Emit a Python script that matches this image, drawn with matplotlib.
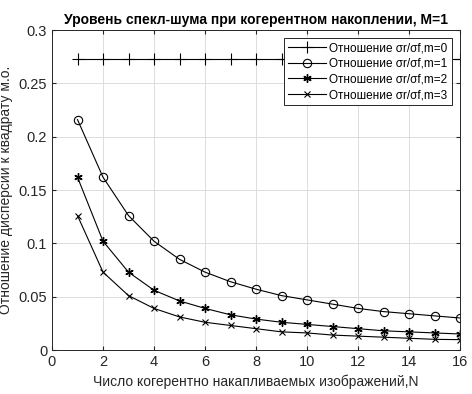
#speckle noise level vs number of coherently accumulated images
import numpy as np
import matplotlib.pyplot as plt

plt.rcParams['font.family'] = ['Liberation Sans', 'DejaVu Sans']

N = np.arange(1, 17)
m0 = [0.273]*16
m1 = [0.216, 0.162, 0.126, 0.102, 0.085, 0.073, 0.064, 0.057, 0.051, 0.047,
      0.043, 0.039, 0.036, 0.034, 0.032, 0.030]
m2 = [0.162, 0.102, 0.073, 0.056, 0.046, 0.039, 0.033, 0.029, 0.026, 0.024,
      0.022, 0.020, 0.018, 0.017, 0.016, 0.015]
m3 = [0.126, 0.073, 0.051, 0.039, 0.031, 0.026, 0.023, 0.020, 0.017, 0.016,
      0.014, 0.013, 0.012, 0.011, 0.010, 0.0097]
labels = ['Отношение σr/σf,m=0', 'Отношение σr/σf,m=1',
          'Отношение σr/σf,m=2', 'Отношение σr/σf,m=3']

fig = plt.figure(figsize=(4.72, 3.94), dpi=100)
ax = fig.add_axes([52/472, 1-350/394, 408/472, 320/394])

ax.plot(N, m0, 'k-', marker='+', ms=8, mew=0.8, lw=0.8, label=labels[0])
ax.plot(N, m1, 'k-', marker='o', ms=6, mfc='none', mew=0.8, lw=0.8, label=labels[1])
ax.plot(N, m2, 'k-', marker=(6, 2, 0), ms=6, mew=1.0, lw=0.8, label=labels[2])
ax.plot(N, m3, 'k-', marker='x', ms=4.5, mew=0.8, lw=0.8, label=labels[3])

ax.set_xlim(0, 16)
ax.set_ylim(0, 0.3)
ax.set_xticks(np.arange(0, 17, 2))
ax.set_yticks([0, 0.05, 0.1, 0.15, 0.2, 0.25, 0.3])
ax.set_yticklabels(['0', '0.05', '0.1', '0.15', '0.2', '0.25', '0.3'])
ax.grid(True, color='#dddddd', lw=0.7)
ax.tick_params(direction='in', top=True, right=True, labelsize=10.5, colors='#262626', length=3)
for s in ax.spines.values():
    s.set_color('#262626')
    s.set_linewidth(0.7)

ax.set_title('Уровень спекл-шума при когерентном накоплении, M=1', fontsize=10, fontweight='bold', pad=4)
ax.set_xlabel('Число когерентно накапливаемых изображений,N', fontsize=10, color='#262626')
ax.set_ylabel('Отношение дисперсии к квадрату м.о.', fontsize=10, color='#262626')

leg = ax.legend(loc='upper right', fontsize=8.5, fancybox=False, edgecolor='#262626',
                framealpha=1, handlelength=3.2, borderaxespad=0.7, labelspacing=0.3,
                borderpad=0.35, handletextpad=0.3)
leg.get_frame().set_linewidth(0.7)

plt.savefig('out.png', dpi=100)
